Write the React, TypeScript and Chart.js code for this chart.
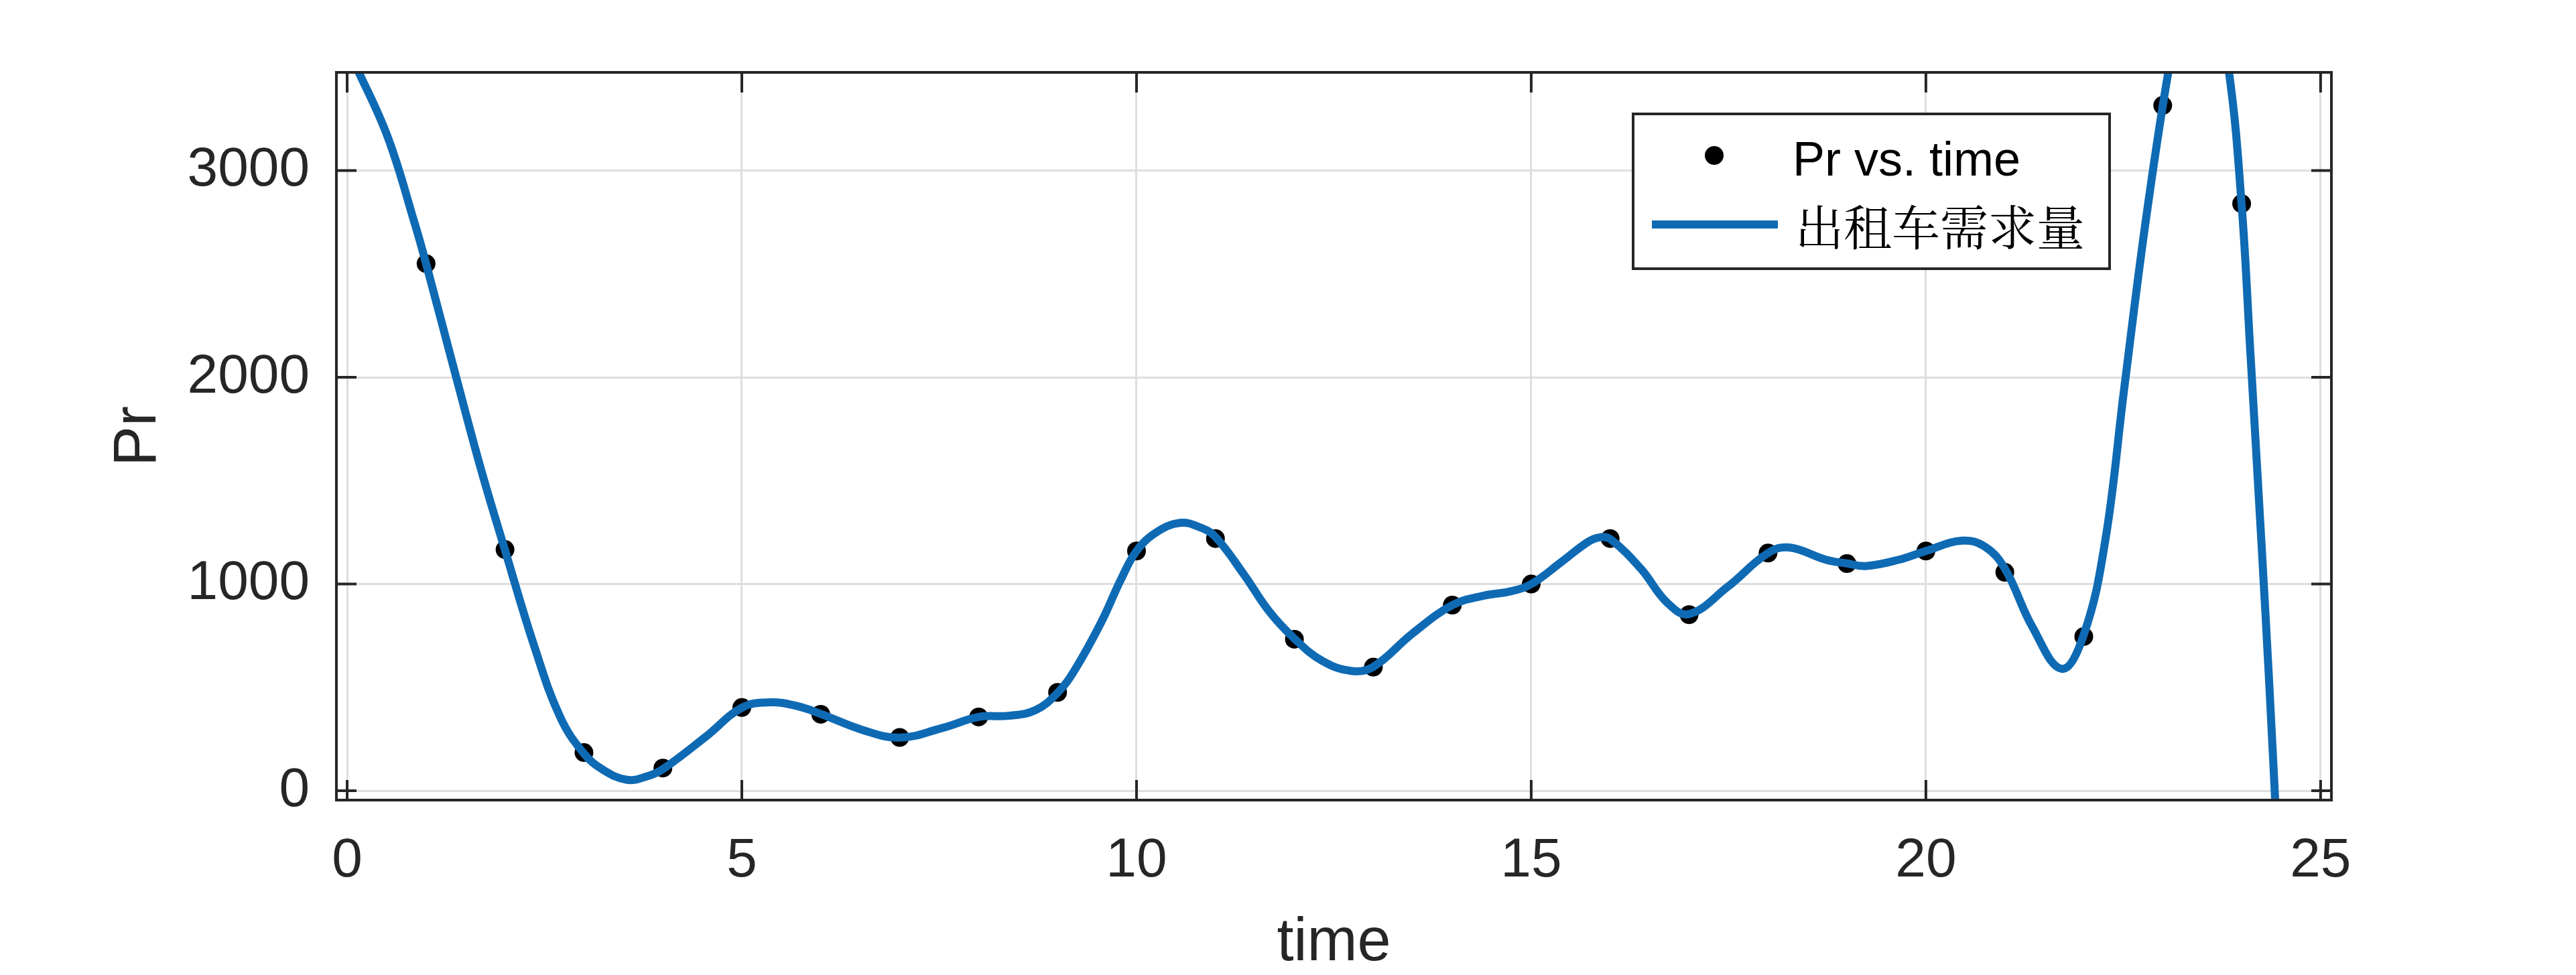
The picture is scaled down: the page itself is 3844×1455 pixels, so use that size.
import React, { useEffect, useRef } from "react";
import { Chart, registerables } from "chart.js";

Chart.register(...registerables);

// ---------- data ----------
const timePoints = [1, 2, 3, 4, 5, 6, 7, 8, 9, 10, 11, 12, 13, 14, 15, 16, 17, 18, 19, 20, 21, 22, 23, 24];
const prValues = [2550, 1167, 185, 110, 403, 370, 258, 357, 476, 1160, 1220, 733, 598, 898, 1000, 1220, 852, 1150, 1099, 1160, 1057, 746, 3315, 2840];

const fitTime = [
  0, 0.15, 0.52, 0.857, 1.0, 1.36, 1.7, 2.0, 2.37, 2.7, 3.0, 3.25, 3.545, 3.8, 4.0, 4.55, 5.0, 5.35, 5.7, 6.0, 6.54, 7.0,
  7.54, 8.0, 8.38, 8.72, 9.0, 9.22, 9.55, 9.8, 10.0, 10.25, 10.55, 10.8, 11.0, 11.37, 11.68, 12.0, 12.35, 12.72, 13.0, 13.49,
  14.0, 14.4, 14.74, 15.0, 15.38, 15.72, 15.87, 16.0, 16.39, 16.72, 17.0, 17.49, 18.0, 18.27, 18.74, 19.0, 19.24,
  19.65, 20.0, 20.46, 20.75, 21.0, 21.35, 21.72, 22.0, 22.27, 22.51, 22.78, 23.07, 23.25, 23.45, 23.65, 23.84, 24.0, 24.11,
  24.25, 24.35, 24.45,
];
const fitPr = [
  3580, 3473, 3156, 2743, 2550, 2031, 1549, 1164, 700, 356, 180, 100, 53, 70, 105, 264, 402, 428, 410, 372, 293, 257,
  304, 357, 363, 390, 474, 586, 813, 1020, 1160, 1250, 1296, 1275, 1228, 1041, 868, 736, 629, 580, 600, 759,
  898, 944, 965, 1000, 1106, 1204, 1226, 1218, 1074, 911, 855, 987, 1150, 1177, 1117, 1100, 1087,
  1117, 1160, 1210, 1180, 1075, 792, 590, 755, 1205, 1939, 2743, 3475, 3800, 3950, 3820, 3475, 2834, 2123,
  1205, 516, -240,
];

const xTickValues = [0, 5, 10, 15, 20, 25];
const yTickValues = [0, 1000, 2000, 3000];
const xRange = [-0.136, 25.137];
const yRange = [-45, 3475];

const scatterLabel = "Pr vs. time";
const fitLabel = "出租车需求量";
const xTitle = "time";
const yTitle = "Pr";

// ---------- styles ----------
const W = 3844;
const H = 1455;
const AXIS = "#262626";
const GRID = "#dedede";
const BLUE = "#0F6AB4";
const FONT = '"Liberation Sans", Arial, Helvetica, sans-serif';
const CJK = '"Noto Serif CJK SC", "Noto Sans CJK SC", sans-serif';
const TICK = 30;

const framePlugin = {
  id: "frameAndLegend",
  afterDraw(chart: any) {
    const { ctx, chartArea: a, scales } = chart;
    ctx.save();
    // inward ticks
    ctx.strokeStyle = AXIS;
    ctx.lineWidth = 4;
    ctx.beginPath();
    for (const v of xTickValues) {
      const p = scales.x.getPixelForValue(v);
      ctx.moveTo(p, a.bottom);
      ctx.lineTo(p, a.bottom - TICK);
      ctx.moveTo(p, a.top);
      ctx.lineTo(p, a.top + TICK);
    }
    for (const v of yTickValues) {
      const p = scales.y.getPixelForValue(v);
      ctx.moveTo(a.left, p);
      ctx.lineTo(a.left + TICK, p);
      ctx.moveTo(a.right, p);
      ctx.lineTo(a.right - TICK, p);
    }
    ctx.stroke();
    ctx.strokeRect(a.left, a.top, a.right - a.left, a.bottom - a.top);

    // legend
    const lw = 711;
    const lh = 231;
    const lx = a.right - 331 - lw;
    const ly = a.top + 62;
    ctx.fillStyle = "#ffffff";
    ctx.fillRect(lx, ly, lw, lh);
    ctx.strokeStyle = AXIS;
    ctx.lineWidth = 4;
    ctx.strokeRect(lx, ly, lw, lh);

    ctx.fillStyle = "#000000";
    ctx.beginPath();
    ctx.arc(lx + 121, ly + 62, 14, 0, Math.PI * 2);
    ctx.fill();

    ctx.strokeStyle = BLUE;
    ctx.lineWidth = 12;
    ctx.lineCap = "butt";
    ctx.beginPath();
    ctx.moveTo(lx + 28, ly + 165);
    ctx.lineTo(lx + 216, ly + 165);
    ctx.stroke();

    ctx.fillStyle = "#000000";
    ctx.textAlign = "left";
    ctx.textBaseline = "alphabetic";
    ctx.font = `72px ${FONT}`;
    ctx.fillText(chart.data.datasets[1].label, lx + 238, ly + 92);
    ctx.textBaseline = "middle";
    ctx.font = `72px ${CJK}`;
    ctx.fillText(chart.data.datasets[0].label, lx + 242, ly + 169);
    ctx.restore();
  },
};

export default function App() {
  const ref = useRef<HTMLCanvasElement | null>(null);

  useEffect(() => {
    if (!ref.current) return;
    const chart = new Chart(ref.current, {
      type: "line",
      data: {
        datasets: [
          {
            label: fitLabel,
            data: fitTime.map((t, i) => ({ x: t, y: fitPr[i] })),
            borderColor: BLUE,
            borderWidth: 12,
            pointRadius: 0,
            fill: false,
            tension: 0.4,
            borderJoinStyle: "round",
            clip: 0,
          } as any,
          {
            label: scatterLabel,
            data: timePoints.map((t, i) => ({ x: t, y: prValues[i] })),
            showLine: false,
            pointRadius: 14,
            pointBackgroundColor: "#000000",
            pointBorderWidth: 0,
            borderColor: "#000000",
            backgroundColor: "#000000",
          } as any,
        ],
      },
      options: {
        responsive: false,
        animation: false,
        devicePixelRatio: 1,
        layout: { padding: { left: 0, top: 108, right: W - 3479, bottom: 0 } },
        plugins: { legend: { display: false }, tooltip: { enabled: false } },
        scales: {
          x: {
            type: "linear",
            min: xRange[0],
            max: xRange[1],
            afterBuildTicks: (s: any) => {
              s.ticks = xTickValues.map((v) => ({ value: v }));
            },
            afterFit: (s: any) => {
              s.height = H - 1194;
            },
            grid: { color: GRID, lineWidth: 3, drawTicks: false },
            border: { display: false },
            ticks: {
              color: AXIS,
              font: { family: FONT, size: 82, lineHeight: 1 },
              padding: 50,
              maxRotation: 0,
              autoSkip: false,
              callback: (v: any) => String(v),
            },
            title: {
              display: true,
              text: xTitle,
              color: AXIS,
              font: { family: FONT, size: 90, lineHeight: 1 },
              padding: { top: 0, bottom: 2 },
            },
          },
          y: {
            type: "linear",
            min: yRange[0],
            max: yRange[1],
            afterBuildTicks: (s: any) => {
              s.ticks = yTickValues.map((v) => ({ value: v }));
            },
            afterFit: (s: any) => {
              s.width = 502;
            },
            grid: { color: GRID, lineWidth: 3, drawTicks: false },
            border: { display: false },
            ticks: {
              color: AXIS,
              font: { family: FONT, size: 82, lineHeight: 1 },
              padding: 40,
              autoSkip: false,
              callback: (v: any) => String(v),
            },
            title: {
              display: true,
              text: yTitle,
              color: AXIS,
              font: { family: FONT, size: 90, lineHeight: 1 },
              padding: { top: 162, bottom: 0 },
            },
          },
        },
      },
      plugins: [framePlugin],
    });
    return () => chart.destroy();
  }, []);

  return (
    <div style={{ position: "absolute", left: 0, top: 0, width: W, height: H, background: "#ffffff" }}>
      <canvas ref={ref} width={W} height={H} style={{ width: W, height: H, display: "block" }} />
    </div>
  );
}
